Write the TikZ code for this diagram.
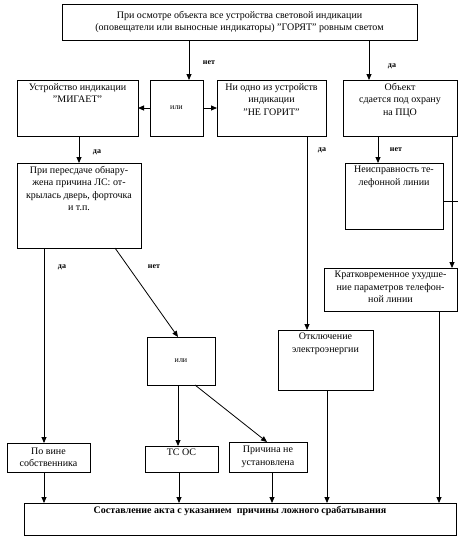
\documentclass[tikz,border=0pt]{standalone}
\usepackage{fontspec}
\setmainfont{Liberation Serif}
\usetikzlibrary{arrows.meta}
\begin{document}
\begin{tikzpicture}[x=1pt,y=-1pt,
  bx/.style 2 args={draw, line width=0.8pt, anchor=north west, minimum width=#1pt, minimum height=#2pt, inner sep=0pt, outer sep=0pt, align=center, font=\fontsize{10}{12.5}\selectfont},
  lbl/.style={anchor=north, align=center, inner sep=0pt, yshift=-3pt, font=\fontsize{10}{12.5}\selectfont},
  sm/.style={font=\fontsize{8}{9}\selectfont\bfseries, inner sep=1pt},
  arr/.style={line width=0.8pt, -{Triangle[length=6pt,width=5pt]}},
  ln/.style={line width=0.8pt}]
\useasboundingbox (0,0) rectangle (471,541);
% boxes
\node[bx={355}{36}] (top) at (62,4) {При осмотре объекта все устройства световой индикации\\(оповещатели или выносные индикаторы) "ГОРЯТ" ровным светом};
\node[bx={121}{56}, label={[lbl]north:Устройство индикации\\"МИГАЕТ"}] (mig) at (17,80) {};
\node[bx={53}{56}, font=\fontsize{8}{9}\selectfont] (ili1) at (150,80) {или};
\node[bx={109}{56}, label={[lbl]north:Ни одно из устройств\\индикации\\"НЕ ГОРИТ"}] (ne) at (217,80) {};
\node[bx={114}{56}, label={[lbl]north:Объект\\сдается под охрану\\на ПЦО}] (obj) at (343,80) {};
\node[bx={124}{85}, label={[lbl]north:При пересдаче обнару-\\жена причина ЛС: от-\\крылась дверь, форточка\\и т.п.}] (per) at (17,163) {};
\node[bx={98}{66}, label={[lbl]north:Неисправность те-\\лефонной линии}] (neisp) at (345,163) {};
\node[bx={133}{43}, label={[lbl]north:Кратковременное ухудше-\\ние параметров телефон-\\ной линии}] (krat) at (324,268) {};
\node[bx={68}{48}, font=\fontsize{8}{9}\selectfont] (ili2) at (147,337) {или};
\node[bx={95}{60}, label={[lbl]north:Отключение\\электроэнергии}] (otkl) at (278,330) {};
\node[bx={83}{29}] (vina) at (7,443) {По вине\\собственника};
\node[bx={73}{26}, label={[lbl]north:ТС ОС}] (tsos) at (145,446) {};
\node[bx={78}{30}] (prich) at (229,442) {Причина не\\установлена};
\node[bx={432}{32}, label={[lbl, font=\fontsize{10}{12.5}\selectfont\bfseries]north:Составление акта с указанием\ \ причины ложного срабатывания}] (akt) at (24,503) {};
% column helpers
\coordinate (cA) at (189,0);
\coordinate (cB) at (369,0);
\coordinate (cC) at (79,0);
\coordinate (cD) at (307,0);
\coordinate (cE) at (378,0);
\coordinate (cF) at (452,0);
\coordinate (cG) at (44,0);
\coordinate (cH) at (178,0);
\coordinate (cH2) at (179,0);
\coordinate (cI) at (272,0);
\coordinate (cJ) at (327,0);
\coordinate (cK) at (439,0);
\coordinate (c115) at (115,0);
\coordinate (c195) at (195,0);
\coordinate (c267) at (267,0);
\coordinate (tk) at (0,201);
% connectors
\draw[arr] (top.south -| cA) -- (ili1.north -| cA);
\draw[arr] (top.south -| cB) -- (obj.north -| cB);
\draw[arr] (ili1.west) -- (mig.east |- ili1.west);
\draw[arr] (ili1.east) -- (ne.west |- ili1.east);
\draw[arr] (mig.south -| cC) -- (per.north -| cC);
\draw[arr] (ne.south -| cD) -- (otkl.north -| cD);
\draw[arr] (obj.south -| cE) -- (neisp.north -| cE);
\draw[arr] (obj.south -| cF) -- (krat.north -| cF);
\draw[ln] (neisp.east |- tk) -- ++(15,0);
\draw[arr] (per.south -| cG) -- (vina.north -| cG);
\draw[arr] (per.south -| c115) -- (ili2.north -| cH);
\draw[arr] (ili2.south -| cH) -- (tsos.north -| cH);
\draw[arr] (ili2.south -| c195) -- (prich.north -| c267);
\draw[arr] (vina.south -| cG) -- (akt.north -| cG);
\draw[arr] (tsos.south -| cH2) -- (akt.north -| cH2);
\draw[arr] (prich.south -| cI) -- (akt.north -| cI);
\draw[arr] (otkl.south -| cJ) -- (akt.north -| cJ);
\draw[arr] (krat.south -| cK) -- (akt.north -| cK);
% branch labels
\node[sm] (l1) at (209,63) {нет};
\node[sm] (l2) at (392,66) {да};
\node[sm] (l3) at (97,152) {да};
\node[sm] (l4) at (322,150) {да};
\node[sm] (l5) at (396,150) {нет};
\node[sm] (l6) at (62,267) {да};
\node[sm] (l7) at (154,267) {нет};
\end{tikzpicture}
\end{document}
